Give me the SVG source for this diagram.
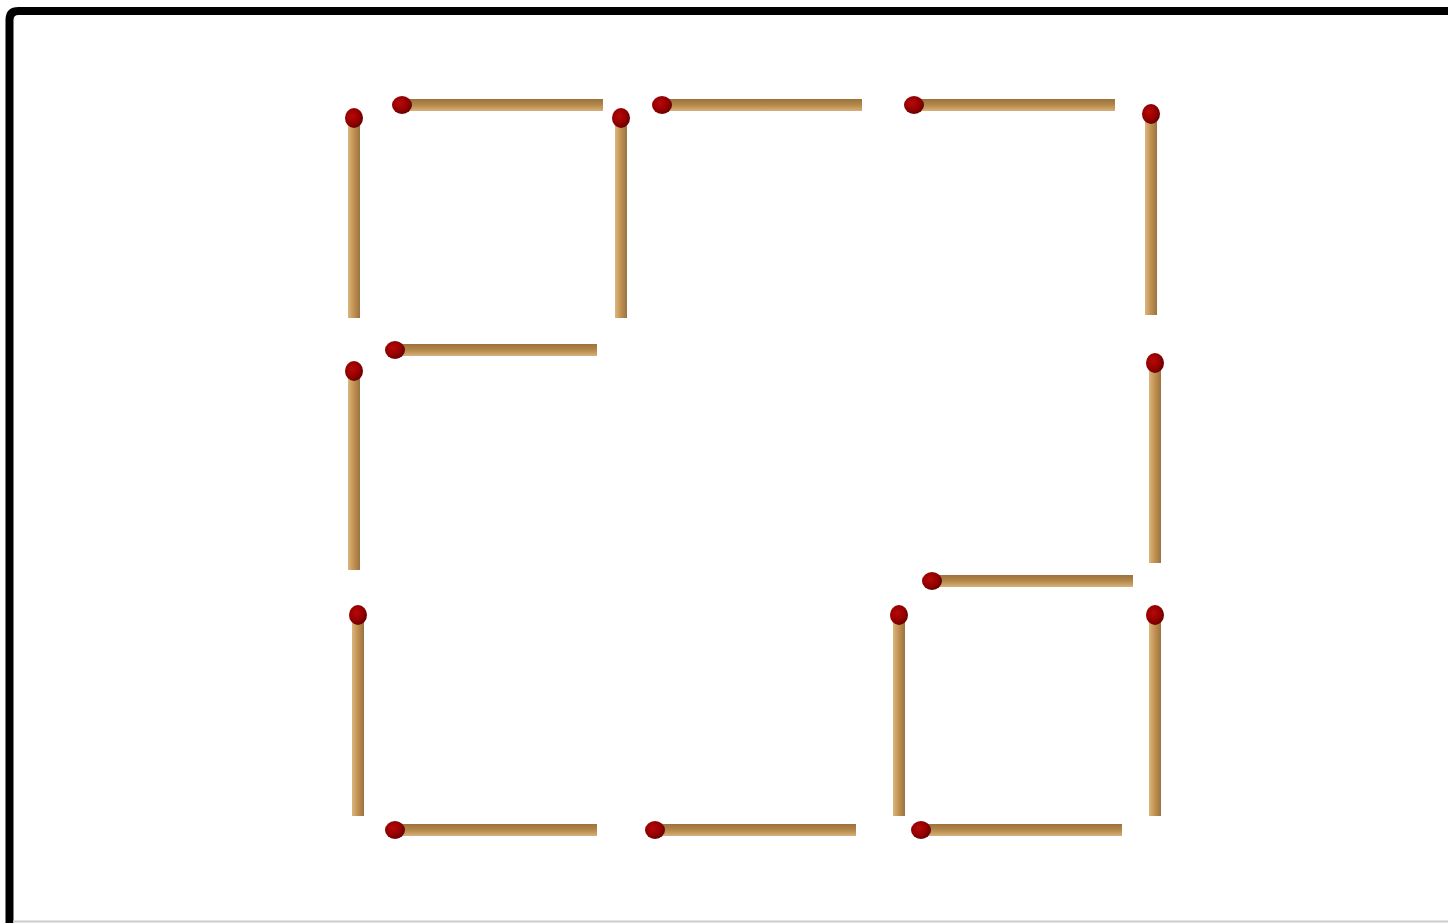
<svg xmlns="http://www.w3.org/2000/svg" width="1448" height="923" viewBox="0 0 1448 923">
<defs>
<linearGradient id="gh" x1="0" y1="0" x2="0" y2="1">
<stop offset="0" stop-color="#9a7240"/>
<stop offset="0.5" stop-color="#b48848"/>
<stop offset="1" stop-color="#d8b07a"/>
</linearGradient>
<linearGradient id="gv" x1="0" y1="0" x2="1" y2="0">
<stop offset="0" stop-color="#dcb67e"/>
<stop offset="0.5" stop-color="#c09050"/>
<stop offset="1" stop-color="#9a7240"/>
</linearGradient>
<radialGradient id="head" cx="0.4" cy="0.4" r="0.6">
<stop offset="0" stop-color="#b80808"/>
<stop offset="0.7" stop-color="#900000"/>
<stop offset="1" stop-color="#6a0000"/>
</radialGradient>
</defs>
<style>
.h{fill:url(#gh)}
.v{fill:url(#gv)}
.hd{fill:url(#head)}
</style>
<rect x="0" y="0" width="1448" height="923" fill="#ffffff"/>
<path d="M9.5,923 V20 Q9.5,11 18.5,11 H1448" fill="none" stroke="#000" stroke-width="8"/>
<line x1="13" y1="921.5" x2="1448" y2="921.5" stroke="#cccccc" stroke-width="2"/>
<g id="matches-h">
<g id="h1"><rect class="h" x="402" y="99" width="201" height="12"/><ellipse class="hd" cx="402" cy="105" rx="10" ry="9"/></g>
<g id="h2"><rect class="h" x="662" y="99" width="200" height="12"/><ellipse class="hd" cx="662" cy="105" rx="10" ry="9"/></g>
<g id="h3"><rect class="h" x="914" y="99" width="201" height="12"/><ellipse class="hd" cx="914" cy="105" rx="10" ry="9"/></g>
<g id="h4"><rect class="h" x="395" y="344" width="202" height="12"/><ellipse class="hd" cx="395" cy="350" rx="10" ry="9"/></g>
<g id="h5"><rect class="h" x="932" y="575" width="201" height="12"/><ellipse class="hd" cx="932" cy="581" rx="10" ry="9"/></g>
<g id="h6"><rect class="h" x="395" y="824" width="202" height="12"/><ellipse class="hd" cx="395" cy="830" rx="10" ry="9"/></g>
<g id="h7"><rect class="h" x="655" y="824" width="201" height="12"/><ellipse class="hd" cx="655" cy="830" rx="10" ry="9"/></g>
<g id="h8"><rect class="h" x="921" y="824" width="201" height="12"/><ellipse class="hd" cx="921" cy="830" rx="10" ry="9"/></g>
</g>
<g id="matches-v">
<g id="v1"><rect class="v" x="348" y="118" width="12" height="200"/><ellipse class="hd" cx="354" cy="118" rx="9" ry="10"/></g>
<g id="v2"><rect class="v" x="615" y="118" width="12" height="200"/><ellipse class="hd" cx="621" cy="118" rx="9" ry="10"/></g>
<g id="v3"><rect class="v" x="1145" y="114" width="12" height="201"/><ellipse class="hd" cx="1151" cy="114" rx="9" ry="10"/></g>
<g id="v4"><rect class="v" x="348" y="371" width="12" height="199"/><ellipse class="hd" cx="354" cy="371" rx="9" ry="10"/></g>
<g id="v5"><rect class="v" x="1149" y="363" width="12" height="200"/><ellipse class="hd" cx="1155" cy="363" rx="9" ry="10"/></g>
<g id="v6"><rect class="v" x="352" y="615" width="12" height="201"/><ellipse class="hd" cx="358" cy="615" rx="9" ry="10"/></g>
<g id="v7"><rect class="v" x="893" y="615" width="12" height="201"/><ellipse class="hd" cx="899" cy="615" rx="9" ry="10"/></g>
<g id="v8"><rect class="v" x="1149" y="615" width="12" height="201"/><ellipse class="hd" cx="1155" cy="615" rx="9" ry="10"/></g>
</g>
</svg>
